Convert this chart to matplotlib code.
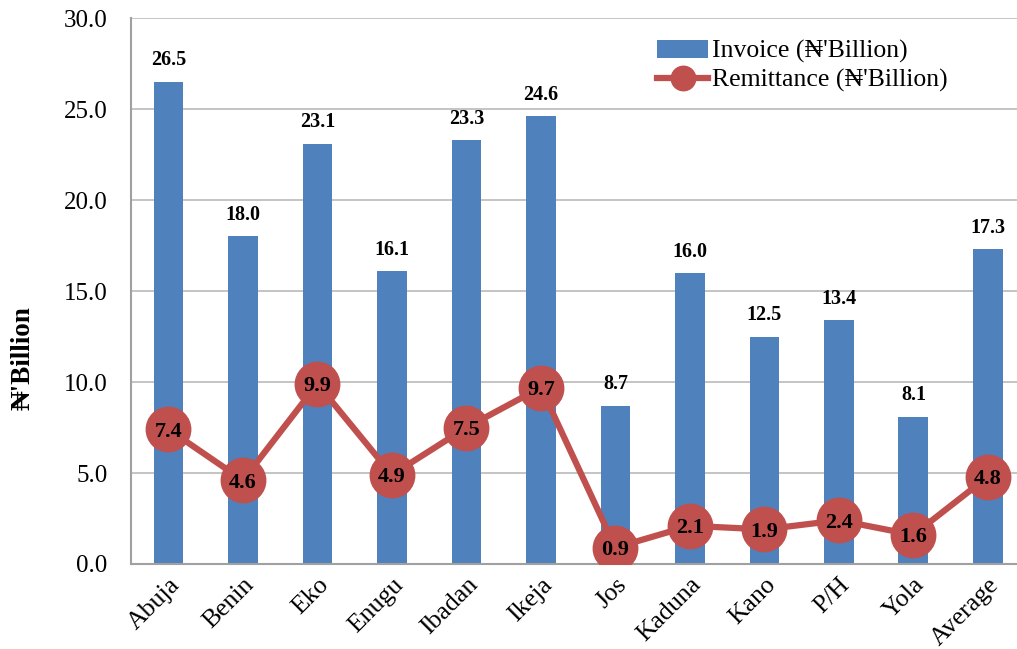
import matplotlib
matplotlib.use("Agg")
import matplotlib.pyplot as plt
import numpy as np

plt.rcParams['font.family'] = ['Liberation Serif', 'DejaVu Serif']

# branch figures in naira billions
branches = ['Abuja', 'Benin', 'Eko', 'Enugu', 'Ibadan', 'Ikeja', 'Jos',
            'Kaduna', 'Kano', 'P/H', 'Yola', 'Average']
invoice = [26.5, 18.0, 23.1, 16.1, 23.3, 24.6, 8.7, 16.0, 12.5, 13.4, 8.1, 17.3]
remittance = [7.4, 4.6, 9.9, 4.9, 7.5, 9.7, 0.9, 2.1, 1.9, 2.4, 1.6, 4.8]

blue = '#4F81BD'
red = '#C0504D'

fig = plt.figure(figsize=(10.17, 6.49), dpi=100)
ax = fig.add_axes([0.129, 0.131, 0.879, 0.841])

x = np.arange(len(branches))
bars = ax.bar(x, invoice, width=0.4, color=blue,
              label="Invoice (\u20a6'Billion)", zorder=2)
line, = ax.plot(x, remittance, color=red, lw=4.5, marker='o', markersize=32,
                label="Remittance (\u20a6'Billion)", zorder=3)

for xi, v in zip(x, invoice):
    ax.text(xi, v + 0.9, f'{v:.1f}', ha='center', va='baseline',
            fontsize=14.5, fontweight='bold')
for xi, v in zip(x, remittance):
    ax.text(xi, v, f'{v:.1f}', ha='center', va='center_baseline',
            fontsize=16, fontweight='bold', zorder=4)

ax.set_xlim(-0.5, len(branches) - 0.5)
ax.set_ylim(0, 30)
yt = np.arange(0, 30.1, 5)
ax.set_yticks(yt)
ax.set_yticklabels([f'{t:.1f}' for t in yt], fontsize=18)
ax.set_xticks(x)
ax.set_xticklabels(branches, rotation=45, ha='right', rotation_mode='anchor',
                   fontsize=18.5)
ax.tick_params(axis='y', length=0, pad=17)
ax.tick_params(axis='x', length=0, pad=7)
ax.yaxis.grid(True, color='#BFBFBF', lw=1.3, zorder=0)
ax.set_axisbelow(True)
for side in ['top', 'right']:
    ax.spines[side].set_visible(False)
for side in ['left', 'bottom']:
    ax.spines[side].set_color('#A0A0A0')
    ax.spines[side].set_linewidth(1.5)

ax.set_ylabel("\u20a6'Billion", fontsize=19.5, fontweight='bold')
ax.yaxis.set_label_coords(-0.107, 0.377)

ax.legend(handles=[bars, line], loc='upper left',
          bbox_to_anchor=(657 / 1017, 1 - 40 / 649),
          bbox_transform=fig.transFigure, borderpad=0, borderaxespad=0,
          frameon=False, fontsize=18.5, handlelength=2.0, handletextpad=0.15,
          labelspacing=0.22, markerscale=0.55)

fig.savefig('out.png', dpi=100)
